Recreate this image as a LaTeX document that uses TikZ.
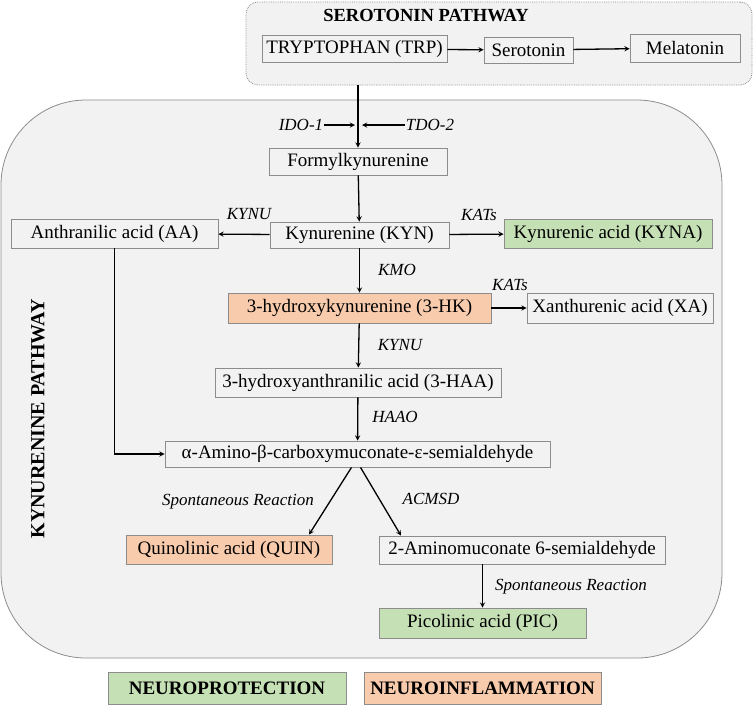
\documentclass[tikz,border=0pt]{standalone}
\usepackage{fontspec}
\setmainfont{Liberation Serif}
\usetikzlibrary{arrows}
\definecolor{protect}{HTML}{C5E0B4}
\definecolor{inflam}{HTML}{F8CBAD}
\definecolor{panel}{HTML}{F2F2F2}
\definecolor{edge}{HTML}{8C8C8C}
\tikzstyle{metab} = [rectangle, minimum height=28pt, inner sep=2pt, text centered, draw=edge, line width=0.8pt, font=\fontsize{19}{22}\selectfont]
\tikzstyle{good} = [metab, fill=protect]
\tikzstyle{bad} = [metab, fill=inflam]
\tikzstyle{enzyme} = [inner sep=1pt, font=\fontsize{17}{20}\selectfont\itshape]
\tikzstyle{heading} = [font=\fontsize{19}{22}\selectfont\bfseries]
\tikzstyle{arrow} = [line width=1.3pt,->,>=stealth]

\begin{document}
\begin{tikzpicture}[x=1pt, y=-1pt]
\useasboundingbox (0,0) rectangle (753,705);

% the two pathway panels
\node (seropanel) [rectangle, rounded corners=12pt, draw=edge, densely dotted, line width=0.8pt, fill=panel, minimum width=506pt, minimum height=83pt] at (499,43.5) {};
\node (kynpanel) [rectangle, rounded corners=85pt, draw=edge, line width=0.8pt, fill=panel, minimum width=721pt, minimum height=558pt] at (361.5,379) {};

\node (serotitle) [heading, font=\fontsize{18.5}{22}\selectfont\bfseries] at (426,16) {SEROTONIN PATHWAY};
\node (kyntitle) [heading, font=\fontsize{20}{22}\selectfont\bfseries, rotate=90] at (38,419) {KYNURENINE PATHWAY};

% serotonin branch
\node (trp) [metab, minimum width=185pt, minimum height=27pt] at (354.5,49) {TRYPTOPHAN (TRP)};
\node (sero) [metab, minimum width=89pt, minimum height=26pt] at (528.5,50) {Serotonin};
\node (mela) [metab, minimum width=110pt] at (685,48) {Melatonin};

\draw [arrow] (trp) -- (sero);
\draw [arrow] (sero) -- (mela);

% kynurenine branch
\node (formyl) [metab, minimum width=178pt, minimum height=27pt] at (358,161.5) {Formylkynurenine};
\node (kyn) [metab, minimum width=179pt, minimum height=26pt] at (359.5,235) {Kynurenine (KYN)};
\node (aa) [metab, minimum width=207pt, minimum height=29pt] at (114.5,233.5) {Anthranilic acid (AA)};
\node (kyna) [good, minimum width=208pt, minimum height=29pt] at (608,233.5) {Kynurenic acid (KYNA)};
\node (hk) [bad, minimum width=263pt, minimum height=30pt] at (359.5,308) {3-hydroxykynurenine (3-HK)};
\node (xa) [metab, minimum width=186pt, minimum height=30pt] at (620,308) {Xanthurenic acid (XA)};
\node (haa) [metab, minimum width=286pt, minimum height=29pt] at (358,382.5) {3-hydroxyanthranilic acid (3-HAA)};
\node (acms) [metab, minimum width=385pt, minimum height=26pt] at (357.5,454) {α-Amino-β-carboxymuconate-ε-semialdehyde};
\node (quin) [bad, minimum width=206pt, minimum height=29pt] at (229,549.5) {Quinolinic acid (QUIN)};
\node (amino) [metab, minimum width=286pt] at (522,550) {2-Aminomuconate 6-semialdehyde};
\node (pic) [good, minimum width=207pt, minimum height=30pt] at (482.5,623) {Picolinic acid (PIC)};

% enzymes
\node (ido) [enzyme] at (301,125) {IDO-1};
\node (tdo) [enzyme] at (430,125) {TDO-2};
\node (kynu) [enzyme] at (249,214) {KYNU};
\node (kats) [enzyme] at (479,215) {KATs};
\node (kmo) [enzyme] at (397,270) {KMO};
\node (katsb) [enzyme] at (510,285) {KATs};
\node (kynub) [enzyme] at (400,345) {KYNU};
\node (haao) [enzyme] at (395,417) {HAAO};
\node (spont) [enzyme] at (238,502) {Spontaneous Reaction};
\node (acmsd) [enzyme] at (431,499) {ACMSD};
\node (spontb) [enzyme] at (571,587) {Spontaneous Reaction};

\coordinate (idoend) at (355,125);
\coordinate (tdoend) at (362,125);

\draw [arrow] (seropanel.south -| formyl.north) -- (formyl);
\draw [arrow] (ido) -- (idoend);
\draw [arrow] (tdo) -- (tdoend);
\draw [arrow] (formyl) -- (kyn);
\draw [arrow] (kyn) -- (aa);
\draw [arrow] (kyn) -- (kyna);
\draw [arrow] (kyn) -- (hk);
\draw [arrow] (hk) -- (xa);
\draw [arrow] (hk) -- (haa);
\draw [arrow] (haa) -- (acms);
\draw [arrow] (aa.south) |- (acms.west);
\draw [arrow] ([xshift=-6pt]acms.south) -- ([xshift=80pt]quin.north);
\draw [arrow] ([xshift=3pt]acms.south) -- ([xshift=-121pt]amino.north);
\draw [arrow] (amino.south -| pic.north) -- (pic);

% legend
\node (protection) [good, heading, minimum width=238pt, minimum height=32pt] at (227,688) {NEUROPROTECTION};
\node (inflammation) [bad, heading, minimum width=237pt, minimum height=32pt] at (482.5,688) {NEUROINFLAMMATION};
\end{tikzpicture}
\end{document}
